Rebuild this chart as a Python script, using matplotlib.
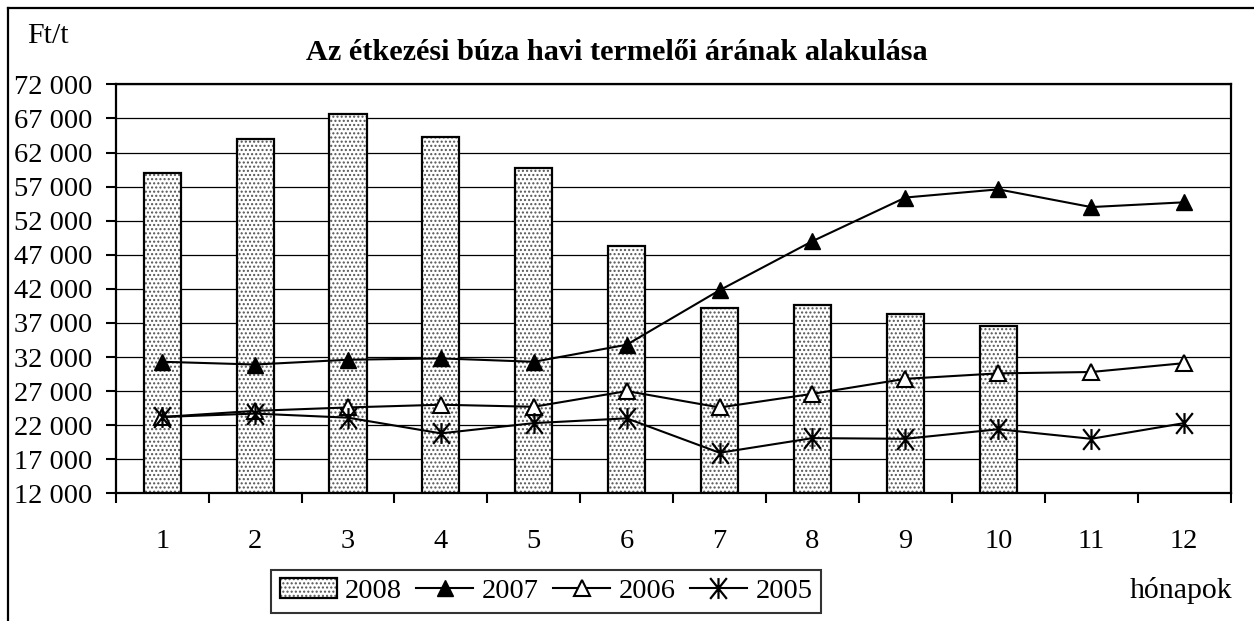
# Az étkezési búza havi termelői árának alakulása - bars for 2008, lines for 2005-2007

import matplotlib
matplotlib.use("Agg")
import matplotlib.pyplot as plt
from matplotlib.lines import Line2D
from matplotlib.patches import Patch
from matplotlib.path import Path

plt.rcParams['font.family'] = ['Liberation Serif', 'DejaVu Serif']

months = [1, 2, 3, 4, 5, 6, 7, 8, 9, 10, 11, 12]
y2008 = [58950, 64000, 67600, 64300, 59800, 48300, 39200, 39600, 38300, 36500]
y2007 = [31300, 30900, 31600, 31800, 31300, 33800, 41800, 49000, 55400, 56600, 54000, 54700]
y2006 = [23200, 24100, 24600, 25000, 24700, 27000, 24600, 26600, 28800, 29600, 29800, 31100]
y2005 = [23200, 23700, 23100, 20800, 22300, 23000, 17950, 20100, 20000, 21400, 20000, 22300]

ymin, ymax, ystep = 12000, 72000, 5000
fsize = 20.5

# Excel style star marker: an X with a vertical stroke through it
star = Path([(0, -1), (0, 1), (-0.8, -1), (0.8, 1), (-0.8, 1), (0.8, -1)],
            [Path.MOVETO, Path.LINETO, Path.MOVETO, Path.LINETO, Path.MOVETO, Path.LINETO])

fig = plt.figure(figsize=(12.54, 6.21), dpi=100)
ax = fig.add_axes([0.0923, 0.2056, 0.889, 0.6585])

# bars: dotted fill first, then a black outline on top
ax.bar(months[:len(y2008)], y2008, width=0.4, bottom=0, color='white',
       hatch='....', edgecolor='#555555', linewidth=0, zorder=2)
ax.bar(months[:len(y2008)], y2008, width=0.4, bottom=0, fill=False,
       edgecolor='black', linewidth=1.6, zorder=3)

ax.plot(months, y2007, color='black', lw=1.5, marker='^', ms=11,
        mfc='black', mec='black', zorder=5)
ax.plot(months, y2006, color='black', lw=1.5, marker='^', ms=11,
        mfc='white', mec='black', mew=1.5, zorder=5)
ax.plot(months, y2005, color='black', lw=1.5, marker=star, ms=15,
        mec='black', mew=1.6, zorder=6)

ax.set_xlim(0.5, 12.5)
ax.set_ylim(ymin, ymax)

yt = list(range(ymin, ymax + 1, ystep))
ax.set_yticks(yt)
ax.set_yticklabels([f"{v:,}".replace(",", " ") for v in yt], fontsize=fsize)
ax.yaxis.grid(True, color='black', lw=0.9, zorder=1)
ax.set_axisbelow(True)

ax.set_xticks(months)
ax.set_xticklabels([str(m) for m in months], fontsize=fsize)
ax.set_xticks([m + 0.5 for m in range(0, 13)], minor=True)
ax.tick_params(axis='x', which='major', length=0, pad=26)
ax.tick_params(axis='x', which='minor', length=7, width=1.5, direction='out')
ax.tick_params(axis='y', length=7, width=1.5, direction='out', pad=10)

for s in ax.spines.values():
    s.set_linewidth(1.6)
    s.set_color('black')

# outer frame of the picture (only top and left are visible)
fig.add_artist(Line2D([0.006, 0.006], [0.0, 0.987], transform=fig.transFigure,
                      color='black', lw=1.6))
fig.add_artist(Line2D([0.006, 1.0], [0.987, 0.987], transform=fig.transFigure,
                      color='black', lw=1.6))

fig.text(0.492, 1 - 53 / 621, "Az étkezési búza havi termelői árának alakulása",
         ha='center', va='center', fontsize=21.8, fontweight='bold')
fig.text(27 / 1254, 1 - 36 / 621, "Ft/t", ha='left', va='center', fontsize=21.5)
fig.text(1232 / 1254, 1 - 590 / 621, "hónapok", ha='right', va='center', fontsize=21.5)

h2008 = (Patch(facecolor='white', hatch='....', edgecolor='#555555', lw=0),
         Patch(fill=False, edgecolor='black', lw=1.6))
h2007 = Line2D([], [], color='black', lw=1.5, marker='^', ms=11, mfc='black')
h2006 = Line2D([], [], color='black', lw=1.5, marker='^', ms=11, mfc='white', mew=1.5)
h2005 = Line2D([], [], color='black', lw=1.5, marker=star, ms=15, mew=1.6)

leg = fig.legend([h2008, h2007, h2006, h2005], ['2008', '2007', '2006', '2005'],
                 loc='center', bbox_to_anchor=(0.4354, 0.048), ncol=4,
                 fontsize=fsize, frameon=True, fancybox=False, borderpad=0.3,
                 handlelength=2.0, handletextpad=0.3, columnspacing=0.5,
                 borderaxespad=0)
leg.get_frame().set_edgecolor('black')
leg.get_frame().set_linewidth(1.5)

fig.savefig("out.png", dpi=100)
